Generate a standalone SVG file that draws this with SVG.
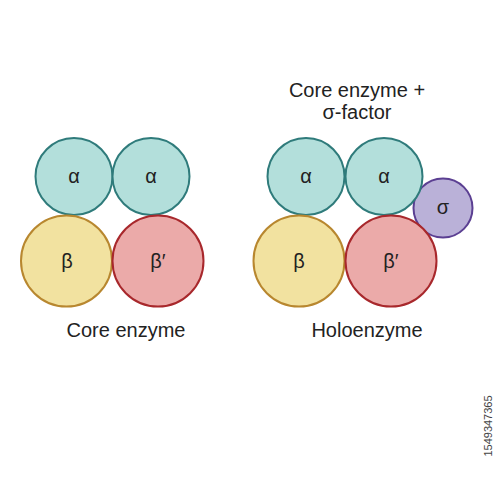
<svg xmlns="http://www.w3.org/2000/svg" width="500" height="500" viewBox="0 0 500 500">
<style>
text{font-family:"Liberation Sans",Arial,sans-serif;fill:#222;text-anchor:middle}
.t{font-size:20px}
.l{font-size:20px}
.c{stroke-width:2}
.a{fill:#b3dfdb;stroke:#2f7b7b}
.b{fill:#f2e2a0;stroke:#b8872f}
.bp{fill:#ebaaa9;stroke:#a8282c}
.s{fill:#bab1d8;stroke:#5b3f92}
</style>
<rect width="500" height="500" fill="#fff"/>
<g id="core">
<g id="core-alpha1"><circle class="c a" cx="74" cy="176.5" r="38.5"/><text class="l" x="74" y="183">α</text></g>
<g id="core-alpha2"><circle class="c a" cx="151" cy="176.5" r="38.5"/><text class="l" x="151" y="183">α</text></g>
<g id="core-beta"><circle class="c b" cx="66.5" cy="261" r="45.5"/><text class="l" x="67" y="268">β</text></g>
<g id="core-betap"><circle class="c bp" cx="158" cy="261" r="45.5"/><text class="l" x="158" y="268">β′</text></g>
<text class="t" x="126" y="337">Core enzyme</text>
</g>
<g id="holo">
<g id="holo-sigma"><circle class="c s" cx="443" cy="208" r="29.5"/><text class="l" x="443" y="214">σ</text></g>
<g id="holo-alpha1"><circle class="c a" cx="306" cy="176.5" r="38.5"/><text class="l" x="306" y="183">α</text></g>
<g id="holo-alpha2"><circle class="c a" cx="384" cy="176.5" r="38.5"/><text class="l" x="384" y="183">α</text></g>
<g id="holo-beta"><circle class="c b" cx="299" cy="261" r="45.5"/><text class="l" x="299" y="268">β</text></g>
<g id="holo-betap"><circle class="c bp" cx="391" cy="261" r="45.5"/><text class="l" x="391" y="268">β′</text></g>
<text class="t" x="357" y="97">Core enzyme +</text>
<text class="t" x="357" y="119">σ-factor</text>
<text class="t" x="367" y="337">Holoenzyme</text>
</g>
<g id="connectors"/>
<text x="0" y="0" transform="translate(492,426) rotate(-90)" style="font-size:11px;fill:#444">1549347365</text>
</svg>
